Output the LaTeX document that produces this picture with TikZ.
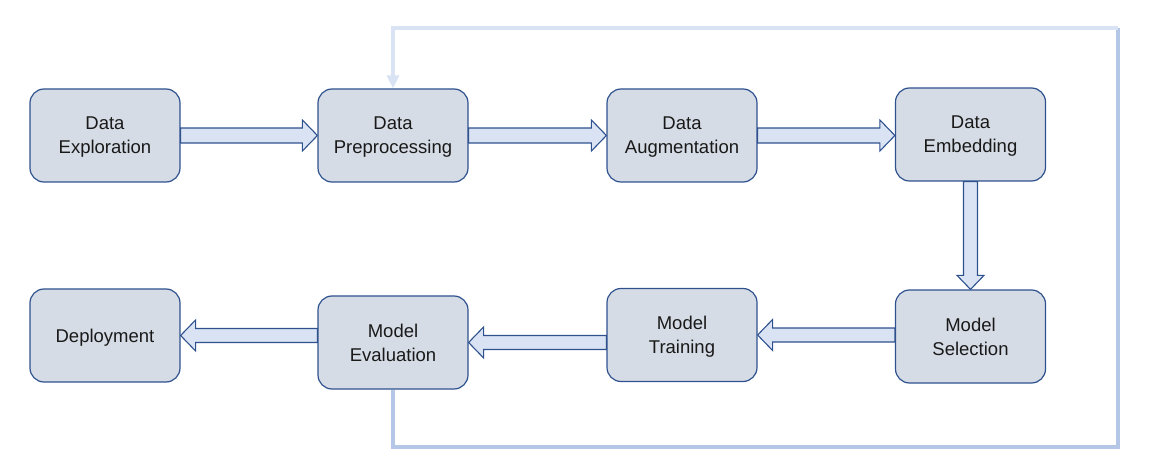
\documentclass[tikz,border=0pt]{standalone}
\usepackage{fontspec}
\setmainfont{Liberation Sans}
\usetikzlibrary{arrows.meta,calc}
\definecolor{boxfill}{HTML}{D6DCE5}
\definecolor{boxline}{HTML}{2F528F}
\definecolor{arrfill}{HTML}{DAE3F3}
\definecolor{fbdarkc}{HTML}{B4C7E7}
\definecolor{fblightc}{HTML}{DAE3F3}
\tikzset{
  stage/.style={draw=boxline, fill=boxfill, line width=1.2pt, rounded corners=14pt,
    minimum width=150pt, minimum height=93pt, align=center, inner sep=0pt, text depth=0pt,
    font=\fontsize{18.5pt}{24pt}\selectfont, text=black!90},
  blockarrow/.style={draw=boxline, fill=arrfill, line width=1.1pt, line join=miter},
  fbdark/.style={draw=fbdarkc, line width=4pt},
  fblight/.style={draw=fblightc, line width=4pt},
}
\newcommand\arrRight[2]{\draw[blockarrow] let \p1=(#1.east), \p2=(#2.west) in
  (\x1,\y1+7.5pt) -- (\x2-15pt,\y1+7.5pt) -- (\x2-15pt,\y1+15.5pt) -- (\x2,\y1)
  -- (\x2-15pt,\y1-15.5pt) -- (\x2-15pt,\y1-7.5pt) -- (\x1,\y1-7.5pt) -- cycle;}
\newcommand\arrLeft[2]{\draw[blockarrow] let \p1=(#1.west), \p2=(#2.east) in
  (\x1,\y2+7pt) -- (\x2+15pt,\y2+7pt) -- (\x2+15pt,\y2+15.5pt) -- (\x2,\y2)
  -- (\x2+15pt,\y2-15.5pt) -- (\x2+15pt,\y2-7pt) -- (\x1,\y2-7pt) -- cycle;}
\newcommand\arrDown[2]{\draw[blockarrow] let \p1=(#1.south), \p2=(#2.north) in
  (\x1-7pt,\y1) -- (\x1-7pt,\y2+14pt) -- (\x1-13.5pt,\y2+14pt) -- (\x1,\y2)
  -- (\x1+13.5pt,\y2+14pt) -- (\x1+7pt,\y2+14pt) -- (\x1+7pt,\y1) -- cycle;}
\begin{document}
\begin{tikzpicture}[x=1pt,y=-1pt]
\useasboundingbox (0,0) rectangle (1151,470);
\node[stage] (exp) at (105,135.5) {Data\\Exploration};
\node[stage] (pre) at (393,135.5) {Data\\Preprocessing};
\node[stage] (aug) at (682,135.5) {Data\\Augmentation};
\node[stage] (emb) at (970.5,134.5) {Data\\Embedding};
\node[stage] (sel) at (970.5,336.5) {Model\\Selection};
\node[stage] (tra) at (682,335) {Model\\Training};
\node[stage] (eva) at (393,342.5) {Model\\Evaluation};
\node[stage] (dep) at (105,335.5) {Deployment};
\coordinate (fbA) at (1118,447);
\coordinate (fbB) at (1118,28);
\draw[fbdark] (eva.south) |- (fbA) -- (fbB);
\draw[fblight, -{Triangle[width=12pt,length=13pt]}] (fbB) -| (pre.north);
\arrRight{exp}{pre}
\arrRight{pre}{aug}
\arrRight{aug}{emb}
\arrDown{emb}{sel}
\arrLeft{sel}{tra}
\arrLeft{tra}{eva}
\arrLeft{eva}{dep}
\end{tikzpicture}
\end{document}
